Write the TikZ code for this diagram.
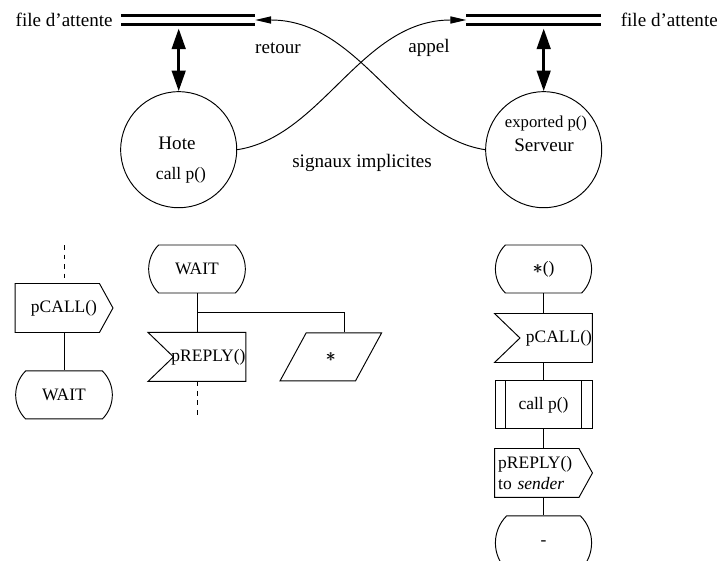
\documentclass[tikz,border=0pt]{standalone}
\usepackage{fontspec}
\setmainfont{Liberation Serif}
\usetikzlibrary{arrows.meta,positioning,calc,shapes.misc,shapes.geometric}
\newcommand{\fatstar}{{\fontsize{13}{13}\selectfont\rlap{$\ast$}\hspace{0.45pt}$\ast$}}

\begin{document}
\begin{tikzpicture}[
  x=0.629pt, y=-0.629pt,
  font=\fontsize{12}{14}\selectfont,
  line width=0.6pt,
  box/.style={minimum width=61pt, minimum height=30.2pt, inner sep=2pt, font=\fontsize{11}{13}\selectfont},
  waitst/.style={box, draw, rounded rectangle, rounded rectangle arc length=90, minimum width=64.8pt},
  sendsig/.style={box, append after command={\pgfextra{
      \draw (\tikzlastnode.north west) -- ([xshift=-8.5pt]\tikzlastnode.north east) -- (\tikzlastnode.east)
        -- ([xshift=-8.5pt]\tikzlastnode.south east) -- (\tikzlastnode.south west) -- cycle;}}},
  recvsig/.style={box, text width=61pt, inner xsep=0pt, align=right, append after command={\pgfextra{
      \draw (\tikzlastnode.north west) -- (\tikzlastnode.north east) -- (\tikzlastnode.south east)
        -- (\tikzlastnode.south west) -- ([xshift=16pt]\tikzlastnode.west) -- cycle;}}},
  taskbox/.style={box, draw, trapezium, trapezium left angle=60, trapezium right angle=120, trapezium stretches=true, minimum width=64pt},
  callbox/.style={box, draw, path picture={
      \draw ([xshift=6.3pt]path picture bounding box.north west) -- ([xshift=6.3pt]path picture bounding box.south west);
      \draw ([xshift=-6.3pt]path picture bounding box.north east) -- ([xshift=-6.3pt]path picture bounding box.south east);}},
  agent/.style={draw, circle, minimum size=73pt, inner sep=0pt},
  queue/.style={minimum width=84pt, minimum height=10pt, inner sep=0pt},
  queueline/.style={double, line width=1.9pt, double distance=3.8pt},
  sig/.style={-{Triangle[length=10pt,width=4.5pt]}},
  duplex/.style={line width=1.9pt, {Triangle[length=13pt,width=8.5pt]}-{Triangle[length=13pt,width=8.5pt]}}]
  \path[use as bounding box, clip] (0,0) rectangle (717,561);

  % processes and their queues
  \node[agent] (hote) at (178.7,149.7) {};
  \node[agent] (serveur) at (543.7,149.7) {};
  \node (hoteN) at (177,143) {Hote};
  \node[font=\fontsize{11}{13}\selectfont] (hoteC) at (181,175) {call p()};
  \node[font=\fontsize{10.5}{12}\selectfont] (servE) at (546,123) {exported p()};
  \node (servN) at (544,145) {Serveur};
  \node[queue] (fileH) at (188,20) {};
  \node[queue] (fileS) at (533.5,20) {};
  \draw[queueline] (fileH.west) -- (fileH.east);
  \draw[queueline] (fileS.west) -- (fileS.east);
  \node[left=1.5pt of fileH] (fileHT) {file d'attente};
  \node[right=9pt of fileS] (fileST) {file d'attente};
  \draw[duplex] (hote.north |- fileH.south) -- (hote.north);
  \draw[duplex] (serveur.north |- fileS.south) -- (serveur.north);
  \draw[sig] (hote.east) .. controls +(85,-13) and +(-105,0) .. (fileS.west);
  \draw[sig] (serveur.west) .. controls +(-85,-13) and +(105,0) .. (fileH.east);
  \node (retour) at (278,48) {retour};
  \node (appel) at (429,48) {appel};
  \node (implic) at (362,163) {signaux implicites};

  % host side
  \node[sendsig] (callL) at (64,308) {pCALL()};
  \node[waitst, below=23.9pt of callL] (waitL) {WAIT};
  \coordinate (topL) at (64,245);
  \draw[dashed] (topL) -- (callL.north);
  \draw (callL.south) -- (waitL.north);

  \node[waitst] (waitM) at (197,269) {WAIT};
  \node[recvsig, below=24.5pt of waitM] (replyM) {pREPLY()};
  \node[taskbox, right=29.3pt of replyM] (anyM) {\fatstar};
  \coordinate (endM) at (197,418);
  \draw (waitM.south) -- (replyM.north);
  \draw ($(waitM.south)!.5!(replyM.north)$) -| ($(anyM.top left corner)!.5!(anyM.top right corner)$);
  \draw[dashed] (replyM.south) -- (endM);

  % server side
  \node[waitst, minimum width=64.5pt] (anyR) at (543.5,269) {\fatstar()};
  \node[recvsig, below=12.6pt of anyR] (callR) {pCALL()};
  \node[callbox, below=11.3pt of callR] (procR) {call p()};
  \node[sendsig, below=12pt of procR, text width=57pt, align=left] (replyR) {pREPLY()\\to \textit{sender}};
  \node[waitst, minimum width=64.5pt, below=11.3pt of replyR, minimum height=34pt] (dashR) {-};
  \draw (anyR.south) -- (callR.north);
  \draw (callR.south) -- (procR.north);
  \draw (procR.south) -- (replyR.north);
  \draw (replyR.south) -- (dashR.north);
\end{tikzpicture}
\end{document}
